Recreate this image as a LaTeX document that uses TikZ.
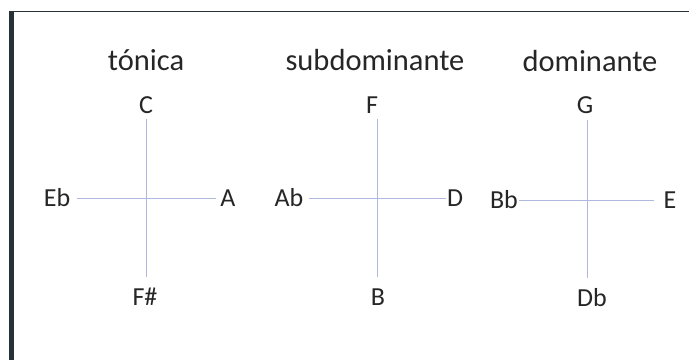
\documentclass[tikz,border=0pt]{standalone}
\usepackage{fontspec}
\setmainfont{Carlito}
\definecolor{txt}{HTML}{262626}
\definecolor{axis}{HTML}{B0B8E0}
\definecolor{frame}{HTML}{263238}
\begin{document}
\begin{tikzpicture}[x=1pt,y=-1pt,
  lbl/.style={inner sep=0pt,text height=17pt,text depth=0pt,anchor=center,text=txt,font=\fontsize{26}{30}\selectfont},
  ttl/.style={inner sep=0pt,anchor=base,text=txt,font=\fontsize{30.5}{35}\selectfont},
  axisline/.style={draw=axis,line width=1pt}]
\useasboundingbox (0,0) rectangle (689,360);
\fill[white] (0,0) rectangle (689,360);
% frame
\fill[frame] (9,11) rectangle (13.5,360);
\draw[frame,line width=1.3pt] (9,11.5) -- (689,11.5);
% titles
\node[ttl] (t1) at (146,70) {tónica};
\node[ttl] (t2) at (375,70) {subdominante};
\node[ttl] (t3) at (590,71) {dominante};
% panel 1
\coordinate (o1) at (146,198);
\node[lbl] (C) at (146,105) {C};
\node[lbl] (Fs) at (145,297) {F\#};
\node[lbl] (Eb) at (57,198) {Eb};
\node[lbl] (A) at (228,198) {A};
\draw[axisline,shorten <=5pt,shorten >=11.5pt] (C.south -| o1) -- (Fs.north -| o1);
\draw[axisline,shorten <=7pt,shorten >=4.5pt] (Eb) -- (A);
% panel 2
\coordinate (o2) at (377,198);
\node[lbl] (F) at (372,105) {F};
\node[lbl] (B) at (378,297) {B};
\node[lbl] (Ab) at (289,198) {Ab};
\node[lbl] (D) at (455,198) {D};
\draw[axisline,shorten <=5pt,shorten >=11.5pt] (F.south -| o2) -- (B.north -| o2);
\draw[axisline,shorten <=5pt,shorten >=0.5pt] (Ab) -- (D);
% panel 3
\coordinate (o3) at (587,200);
\node[lbl] (G) at (585,105) {G};
\node[lbl] (Db) at (592,298) {Db};
\node[lbl] (Bb) at (504,200) {Bb};
\node[lbl] (E) at (670,200) {E};
\draw[axisline,shorten <=6.5pt,shorten >=11.5pt] (G.south -| o3) -- (Db.north -| o3);
\draw[axisline,shorten <=1pt,shorten >=9pt] (Bb) -- (E);
\end{tikzpicture}
\end{document}
